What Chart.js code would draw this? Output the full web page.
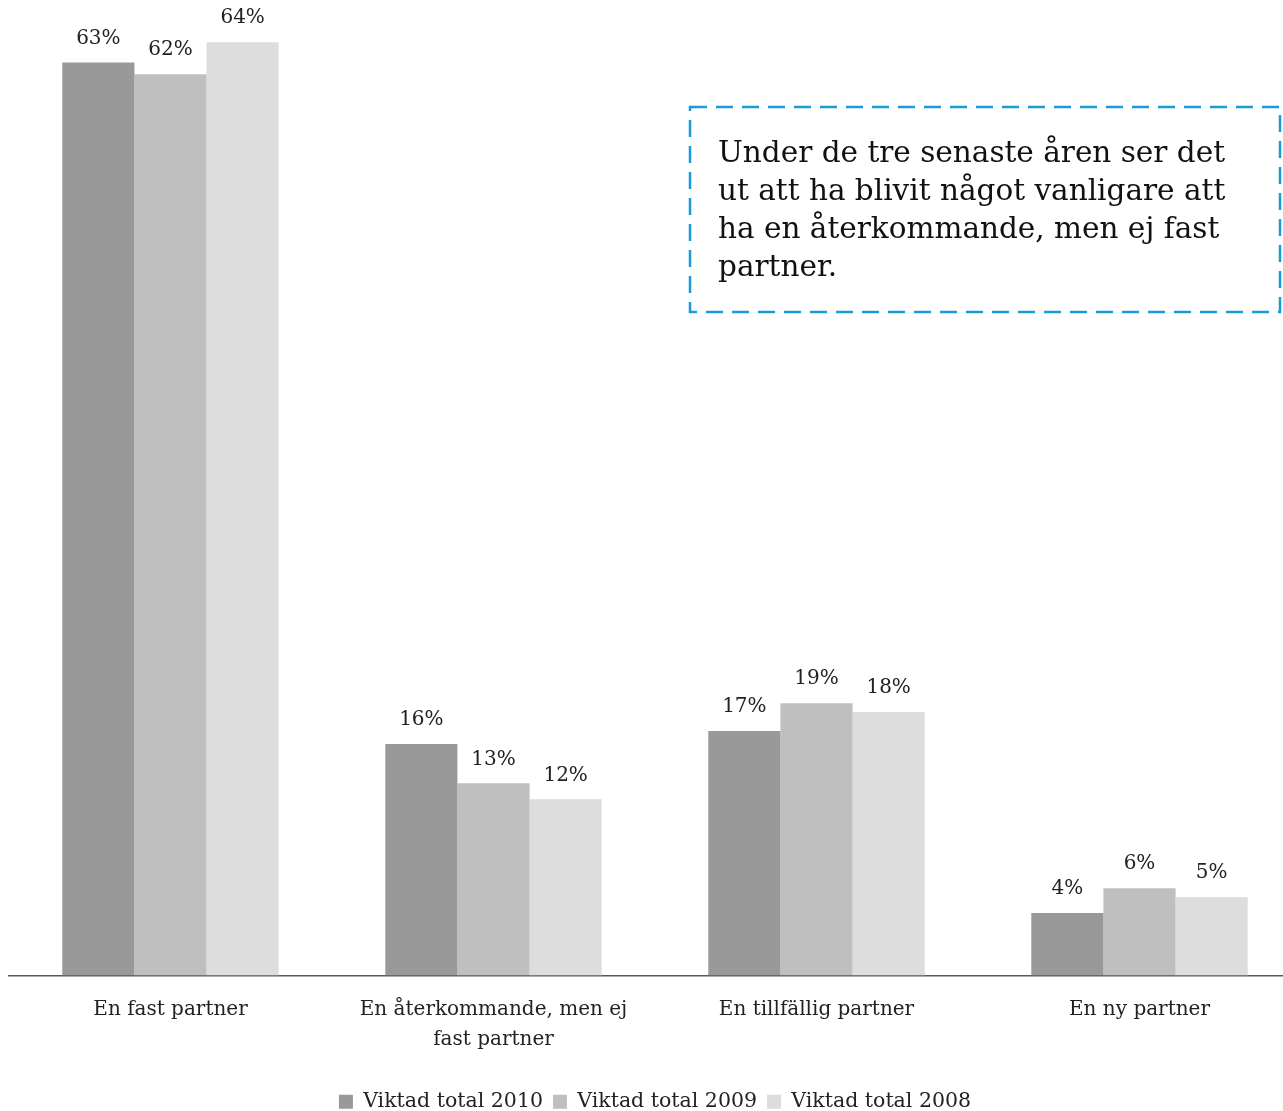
<!DOCTYPE html>
<html>
<head>
<meta charset="utf-8">
<script src="https://cdn.jsdelivr.net/npm/chart.js@4"></script>
<style>
  body { margin: 0; overflow: hidden; background: #fff; }
  #wrap { position: relative; width: 1301px; height: 1122px; }
  #note {
    position: absolute; left: 718px; top: 133px;
    font-family: "DejaVu Serif", serif; font-size: 29.5px; line-height: 38px;
    color: #111; white-space: nowrap;
  }
</style>
</head>
<body>
<div id="wrap">
  <canvas id="chart" width="1301" height="1122"></canvas>
  <div id="note">Under de tre senaste åren ser det<br>ut att ha blivit något vanligare att<br>ha en återkommande, men ej fast<br>partner.</div>
</div>
<script>
const categories = ["En fast partner", ["En återkommande, men ej", "fast partner"], "En tillfällig partner", "En ny partner"];
const seriesNames = ["Viktad total 2010", "Viktad total 2009", "Viktad total 2008"];
const total2010 = [62.7, 15.9, 16.8, 4.3];
const total2009 = [61.9, 13.2, 18.7, 6.0];
const total2008 = [64.1, 12.1, 18.1, 5.4];
const colors = ["#999999", "#bfbfbf", "#dddddd"];

const FONT = "DejaVu Serif";

// percent labels above each bar
const barLabels = {
  id: "barLabels",
  afterDatasetsDraw(chart) {
    const ctx = chart.ctx;
    ctx.save();
    ctx.font = "20px '" + FONT + "'";
    ctx.fillStyle = "#222";
    ctx.textAlign = "center";
    ctx.textBaseline = "bottom";
    chart.data.datasets.forEach((ds, i) => {
      chart.getDatasetMeta(i).data.forEach((bar, j) => {
        ctx.fillText(Math.round(ds.data[j]) + "%", bar.x, bar.y - 14);
      });
    });
    ctx.restore();
  }
};

// dashed frame around the comment
const noteBox = {
  id: "noteBox",
  afterDraw(chart) {
    const ctx = chart.ctx;
    ctx.save();
    ctx.strokeStyle = "#1a9bd7";
    ctx.lineWidth = 2.5;
    ctx.setLineDash([17, 9]);
    ctx.strokeRect(690, 107, 590, 205);
    ctx.restore();
  }
};

new Chart(document.getElementById("chart"), {
  type: "bar",
  data: {
    labels: categories,
    datasets: [
      { label: seriesNames[0], data: total2010, backgroundColor: colors[0] },
      { label: seriesNames[1], data: total2009, backgroundColor: colors[1] },
      { label: seriesNames[2], data: total2008, backgroundColor: colors[2] }
    ]
  },
  options: {
    responsive: false,
    animation: false,
    layout: { padding: { left: 9, right: 0, top: 0, bottom: 0 } },
    datasets: { bar: { categoryPercentage: 0.67, barPercentage: 1.0 } },
    scales: {
      x: {
        grid: { display: false },
        border: { display: true, color: "#595959", width: 1.5 },
        ticks: {
          color: "#222",
          font: { family: FONT, size: 20, lineHeight: 1.5 },
          padding: 11,
          maxRotation: 0
        },
        afterFit(axis) { axis.height = 106; }
      },
      y: {
        display: false,
        min: 0,
        max: 67
      }
    },
    plugins: {
      legend: {
        position: "bottom",
        labels: {
          color: "#222",
          font: { family: FONT, size: 20.5 },
          boxWidth: 14,
          boxHeight: 14,
          padding: 10
        }
      },
      tooltip: { enabled: false }
    }
  },
  plugins: [barLabels, noteBox]
});
</script>
</body>
</html>
